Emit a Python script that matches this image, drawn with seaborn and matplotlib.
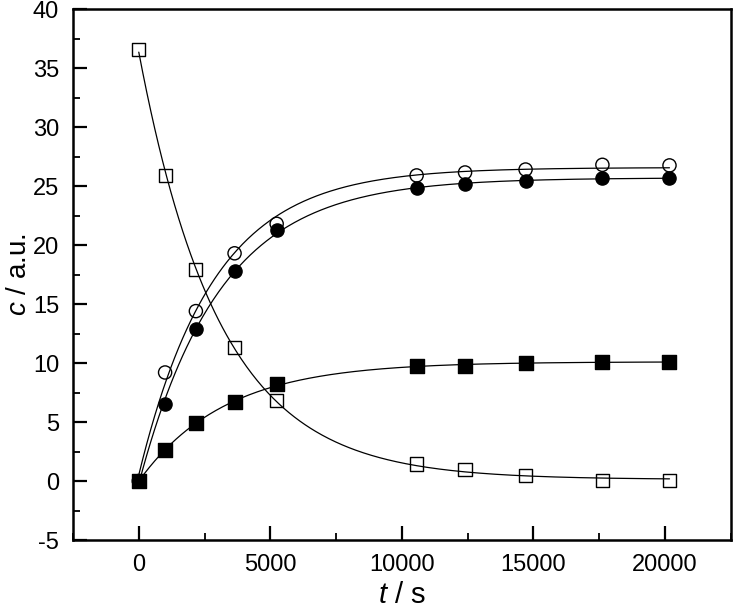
import numpy as np
import pandas as pd
import matplotlib
matplotlib.use("Agg")
import matplotlib.pyplot as plt
from matplotlib.ticker import MultipleLocator
import seaborn as sns

# sampling times (s)
t = [0, 1000, 2170, 3640, 5240, 10560, 12400, 14700, 17620, 20170]

# concentrations (a.u.)
open_square = [36.6, 25.9, 17.95, 11.35, 6.85, 1.45, 0.95, 0.45, 0.03, 0.03]
filled_square = [0.0, 2.65, 4.9, 6.7, 8.2, 9.72, 9.72, 10.0, 10.12, 10.12]
filled_circle = [0.0, 6.55, 12.9, 17.8, 21.25, 24.8, 25.2, 25.4, 25.65, 25.65]
open_circle = [0.0, 9.2, 14.4, 19.3, 21.8, 25.9, 26.15, 26.4, 26.8, 26.75]

series = [
    ("open_square", open_square, "s", "none"),
    ("filled_square", filled_square, "s", "black"),
    ("filled_circle", filled_circle, "o", "black"),
    ("open_circle", open_circle, "o", "none"),
]


def fit_first_order(x, y):
    # y = a + b*exp(-k*x), k by grid search, a and b by least squares
    x = np.asarray(x, float)
    y = np.asarray(y, float)
    best = None
    for k in np.logspace(-5, -2.5, 2000):
        A = np.column_stack([np.ones_like(x), np.exp(-k * x)])
        coef, *_ = np.linalg.lstsq(A, y, rcond=None)
        err = np.sum((A @ coef - y) ** 2)
        if best is None or err < best[0]:
            best = (err, k, coef)
    _, k, (a, b) = best
    return lambda xx: a + b * np.exp(-k * xx)


sns.set_style("ticks")
plt.rcParams['font.family'] = ['Liberation Sans', 'DejaVu Sans']
plt.rcParams['axes.unicode_minus'] = False
plt.rcParams['mathtext.fontset'] = 'custom'
plt.rcParams['mathtext.it'] = 'Liberation Sans:italic'
plt.rcParams['mathtext.rm'] = 'Liberation Sans'

fig = plt.figure(figsize=(7.33, 6.12), dpi=100)
ax = fig.add_axes([0.0996, 0.1176, 0.8974, 0.8676])

t_fine = np.linspace(min(t), max(t), 400)
for name, vals, marker, face in series:
    f = fit_first_order(t, vals)
    curve = pd.DataFrame({"t": t_fine, "c": f(t_fine)})
    sns.lineplot(data=curve, x="t", y="c", color="black", lw=0.9, ax=ax, zorder=2)

for name, vals, marker, face in series:
    df = pd.DataFrame({"t": t, "c": vals})
    sns.scatterplot(data=df, x="t", y="c", marker=marker, s=90,
                    facecolor=face, edgecolor="black", linewidth=1.0,
                    ax=ax, zorder=3)

ax.set_xlim(-2500, 22500)
ax.set_ylim(-5, 40)
ax.xaxis.set_major_locator(MultipleLocator(5000))
ax.xaxis.set_minor_locator(MultipleLocator(2500))
ax.yaxis.set_major_locator(MultipleLocator(5))
ax.yaxis.set_minor_locator(MultipleLocator(2.5))
ax.tick_params(which="major", direction="in", length=10, width=1.6,
               labelsize=17, pad=10, top=False, right=False,
               color="black", labelcolor="black")
ax.tick_params(which="minor", direction="in", length=5, width=1.3,
               top=False, right=False, color="black")
for sp in ax.spines.values():
    sp.set_linewidth(1.8)
    sp.set_color("black")

ax.set_xlabel(r"$t$ / s", fontsize=21, labelpad=4, color="black")
ax.set_ylabel(r"$c$ / a.u.", fontsize=20, color="black")
ax.yaxis.set_label_coords(-0.062, 0.5)

fig.savefig("out.png", dpi=100)
